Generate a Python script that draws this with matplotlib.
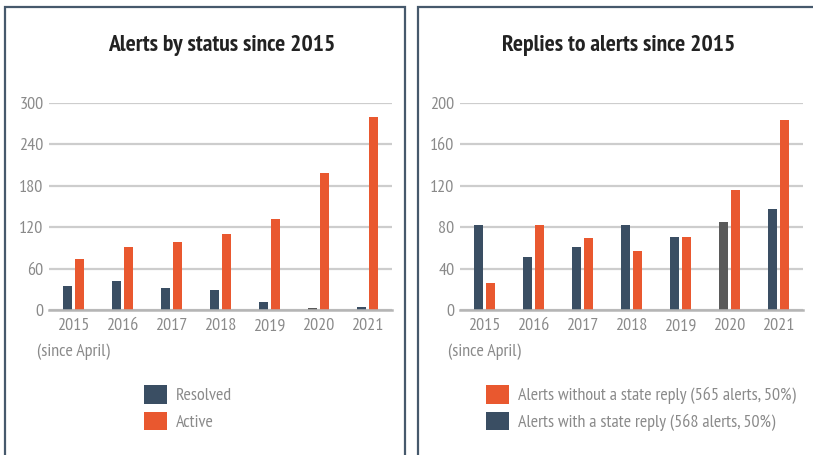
import matplotlib
matplotlib.use('Agg')
import matplotlib.pyplot as plt
import numpy as np
from matplotlib.lines import Line2D
from matplotlib.patches import Patch
from matplotlib import font_manager as fm

# ---- data ----
years = ['2015', '2016', '2017', '2018', '2019', '2020', '2021']
first_year_note = '(since April)'
resolved = [35, 42, 32, 29, 12, 3, 5]
active = [74, 91, 98, 110, 132, 198, 279]
with_reply = [82, 51, 61, 82, 71, 85, 98]
without_reply = [26, 82, 70, 57, 71, 116, 184]
left_ticks = [0, 60, 120, 180, 240, 300]
right_ticks = [0, 40, 80, 120, 160, 200]
left_title = 'Alerts by status since 2015'
right_title = 'Replies to alerts since 2015'
left_legend = ['Resolved', 'Active']
right_legend = ['Alerts without a state reply (565 alerts, 50%)',
                'Alerts with a state reply (568 alerts, 50%)']

# ---- style ----
NAVY = '#3a4e63'
ORANGE = '#e9582f'
GRAY = '#5a5a5a'
TICK = '#8a8a8a'
GRID = '#cdcdcd'
BORDER = '#46596c'

available = {f.name for f in fm.fontManager.ttflist}
prefs = ['PT Sans Narrow', 'Fira Sans Extra Condensed', 'Roboto Condensed',
         'Asap Condensed', 'Barlow Condensed', 'Archivo Narrow']
chosen = [p for p in prefs if p in available][:1]
plt.rcParams['font.family'] = chosen + ['DejaVu Sans']

W, H = 813, 455
fig = plt.figure(figsize=(W / 100, H / 100), dpi=100)


def rect(x0, y0, x1, y1):
    return [x0 / W, 1 - y1 / H, (x1 - x0) / W, (y1 - y0) / H]


def fx(x):
    return x / W


def fy(y):
    return 1 - y / H


# panel borders
for (x0, x1) in [(5, 405), (418, 830)]:
    fig.add_artist(Line2D([fx(x0), fx(x0), fx(x1), fx(x1)],
                          [fy(470), fy(7), fy(7), fy(470)],
                          color=BORDER, lw=1.6, transform=fig.transFigure,
                          solid_joinstyle='miter'))


def draw_panel(axrect, first, second, ticks, title, title_x, labels, handles_colors, leg_pos):
    ax = fig.add_axes(rect(*axrect))
    x = np.arange(len(years))
    wbar = 0.185
    c1 = [GRAY if y == '2020' else NAVY for y in years]
    ax.bar(x - 0.12, first, width=wbar, color=c1, zorder=3)
    ax.bar(x + 0.12, second, width=wbar, color=ORANGE, zorder=3)
    ax.set_xlim(-0.5, len(years) - 0.5)
    ax.set_ylim(0, ticks[-1])
    ax.set_yticks(ticks)
    ax.set_xticks(x)
    ax.set_xticklabels(years)
    ax.yaxis.grid(True, color=GRID, lw=1.6)
    ax.set_axisbelow(True)
    for s in ['top', 'right', 'left']:
        ax.spines[s].set_visible(False)
    ax.spines['bottom'].set_color('#b5b5b5')
    ax.spines['bottom'].set_linewidth(1.8)
    ax.spines['bottom'].set_zorder(4)
    ax.tick_params(length=0, labelsize=13, colors=TICK, pad=4)
    ax.tick_params(axis='x', pad=6)
    ax.annotate(first_year_note, xy=(x[0], 0), xycoords=('data', 'axes fraction'),
                xytext=(0, -24), textcoords='offset points',
                ha='center', va='top', fontsize=13, color=TICK)
    fig.text(fx(title_x), fy(46), title, ha='center', va='center',
             fontsize=17, fontweight='bold', color='#222222')
    handles = [Patch(facecolor=c) for c in handles_colors]
    ax.legend(handles, labels, loc='upper left',
              bbox_to_anchor=(fx(leg_pos[0]), fy(leg_pos[1])),
              bbox_transform=fig.transFigure, frameon=False,
              fontsize=13, handlelength=1.3, handleheight=1.2,
              handletextpad=0.45, labelspacing=0.42, borderpad=0,
              borderaxespad=0, labelcolor=TICK)
    return ax


draw_panel((49, 103, 392, 310), resolved, active, left_ticks, left_title, 222,
           left_legend, [NAVY, ORANGE], (144, 385))
draw_panel((460, 103, 803, 310), with_reply, without_reply, right_ticks, right_title, 619,
           right_legend, [ORANGE, NAVY], (486, 385))

fig.savefig('out.png', dpi=100)
